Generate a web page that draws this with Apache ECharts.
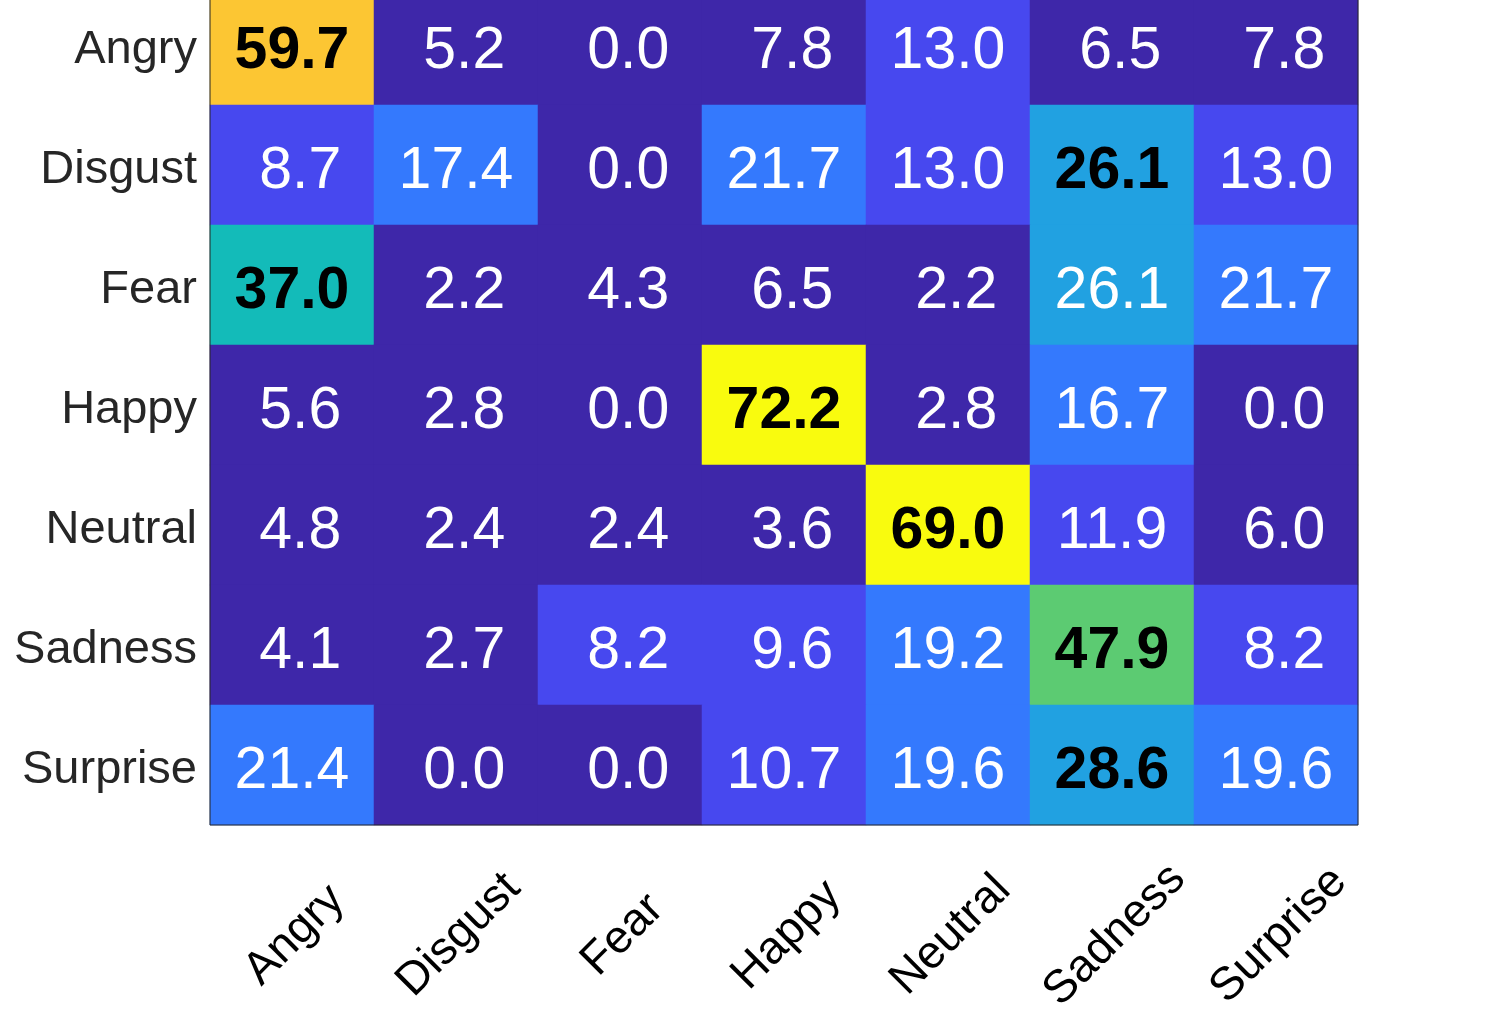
<!DOCTYPE html>
<html>
<head>
<meta charset="utf-8">
<script src="https://cdn.jsdelivr.net/npm/echarts@6/dist/echarts.min.js"></script>
<style>
  html, body { margin: 0; padding: 0; background: #fff; }
  #chart { width: 1485px; height: 1033px; }
</style>
</head>
<body>
<div id="chart"></div>
<script>
  // true class (rows) x predicted class (columns), percentages
  const classes = ['Angry', 'Disgust', 'Fear', 'Happy', 'Neutral', 'Sadness', 'Surprise']
  const angryRow = [59.7, 5.2, 0.0, 7.8, 13.0, 6.5, 7.8]
  const disgustRow = [8.7, 17.4, 0.0, 21.7, 13.0, 26.1, 13.0]
  const fearRow = [37.0, 2.2, 4.3, 6.5, 2.2, 26.1, 21.7]
  const happyRow = [5.6, 2.8, 0.0, 72.2, 2.8, 16.7, 0.0]
  const neutralRow = [4.8, 2.4, 2.4, 3.6, 69.0, 11.9, 6.0]
  const sadnessRow = [4.1, 2.7, 8.2, 9.6, 19.2, 47.9, 8.2]
  const surpriseRow = [21.4, 0.0, 0.0, 10.7, 19.6, 28.6, 19.6]
  const rows = [angryRow, disgustRow, fearRow, happyRow, neutralRow, sadnessRow, surpriseRow]

  // discrete colour bins (parula-like)
  const binEdges = [0, 8, 16, 24, 32, 40, 48, 56, 64, 100]
  const binColors = ['#3e27a9', '#4748ef', '#3479fd', '#21a1e1', '#13bbb9', '#5ccb72', '#b5c848', '#fcc633', '#f9fb0e']

  const data = []
  rows.forEach((row, r) => {
    const rowMax = Math.max(...row)
    row.forEach((v, c) => {
      const item = { value: [c, r, v] }
      if (v === rowMax) {
        item.label = { color: '#000', fontWeight: 'bold' }
      }
      data.push(item)
    })
  })

  const pieces = binColors.map((color, i) => ({
    gte: binEdges[i],
    lt: binEdges[i + 1],
    color: color
  }))

  const chart = echarts.init(document.getElementById('chart'))
  const option = {
    animation: false,
    grid: {
      left: 210,
      right: 127,
      top: -15,
      height: 840,
      outerBoundsMode: 'none',
      containLabel: false,
      show: true,
      z: 10,
      backgroundColor: 'transparent',
      borderColor: '#262626',
      borderWidth: 1
    },
    xAxis: {
      type: 'category',
      data: classes,
      axisLine: { show: false },
      axisTick: { show: false },
      splitLine: { show: false },
      axisLabel: {
        rotate: 45,
        margin: 113,
        align: 'center',
        verticalAlign: 'middle',
        padding: [0, 0, 0, 8],
        fontFamily: 'Liberation Sans',
        fontSize: 46,
        color: '#000',
        interval: 0
      }
    },
    yAxis: {
      type: 'category',
      data: classes,
      inverse: true,
      axisLine: { show: false },
      axisTick: { show: false },
      splitLine: { show: false },
      axisLabel: {
        margin: 13,
        verticalAlign: 'top',
        lineHeight: 10,
        fontFamily: 'Liberation Sans',
        fontSize: 47,
        color: '#262626',
        interval: 0
      }
    },
    visualMap: {
      type: 'piecewise',
      show: false,
      dimension: 2,
      pieces: pieces
    },
    series: [
      {
        type: 'heatmap',
        data: data,
        label: {
          show: true,
          offset: [0, 7],
          fontFamily: 'Liberation Sans',
          fontSize: 59,
          color: '#fff',
          formatter: (p) => {
            const s = p.value[2].toFixed(1)
            return s.length < 4 ? ' ' + s : s
          }
        },
        emphasis: { disabled: true }
      }
    ]
  }
  chart.setOption(option)
  window.addEventListener('resize', () => chart.resize())
</script>
</body>
</html>
